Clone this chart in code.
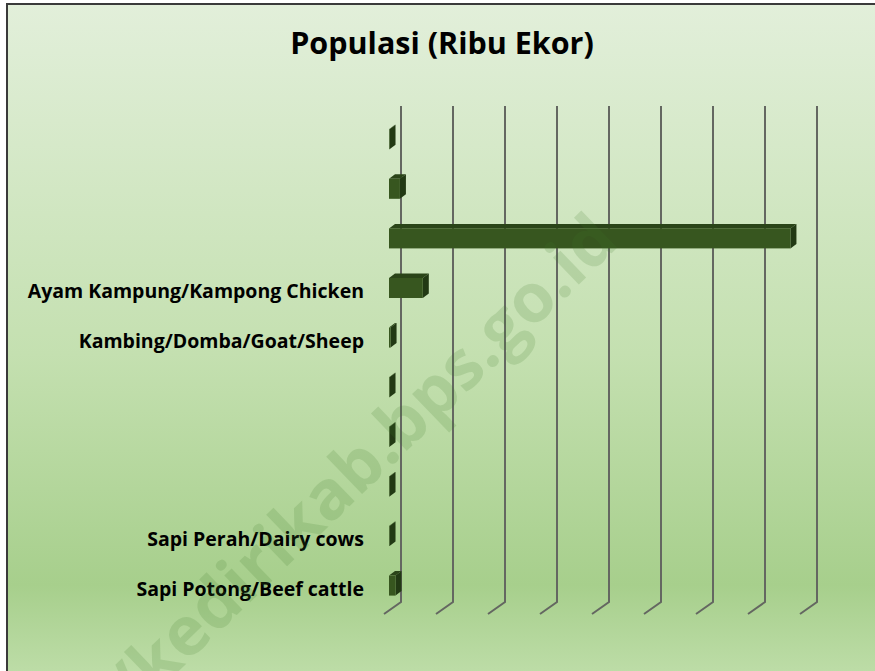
<html>
  <head>
    <script src="https://cdn.jsdelivr.net/npm/d3@7"></script>
    <style>
      * {
        margin: 0;
        padding: 0;
      }
      body {
        background-color: white;
        font-family: "Open Sans", Lato, sans-serif;
      }
    </style>
  </head>
  <body>
    <div id="chart"></div>
    <script>
      // categories top to bottom, blank ones have no label in the source
      const categories = [
        "",
        "",
        "",
        "Ayam Kampung/Kampong Chicken",
        "Kambing/Domba/Goat/Sheep",
        "",
        "",
        "",
        "Sapi Perah/Dairy cows",
        "Sapi Potong/Beef cattle",
      ];
      // population in thousand heads (axis unlabeled)
      const values = [1, 21, 772, 65, 3, 1, 1, 1, 1, 12.5];
      const ticks = [0, 100, 200, 300, 400, 500, 600, 700, 800];

      const w = 875;
      const h = 671;

      // back wall of the 3D plot
      const plotLeft = 401;
      const plotTop = 106;
      const plotBottom = 602;
      const step = 52;

      // floor depth (back -> front) and bar placement inside it
      const floorDx = -17;
      const floorDy = 12;
      const frontDx = -12;
      const frontDy = 8.4;
      const barDx = 6;
      const barDy = -4.5;
      const barH = 20;

      const xScale = d3
        .scaleLinear()
        .domain([0, 800])
        .range([plotLeft, plotLeft + step * 8]);

      const yScale = d3
        .scaleBand()
        .domain(d3.range(categories.length))
        .range([plotTop, plotBottom]);

      const svg = d3
        .select("#chart")
        .append("svg")
        .attr("width", w)
        .attr("height", h);

      const defs = svg.append("defs");
      const grad = defs
        .append("linearGradient")
        .attr("id", "bg")
        .attr("x1", 0)
        .attr("y1", 0)
        .attr("x2", 0)
        .attr("y2", 1);
      grad.append("stop").attr("offset", "0%").attr("stop-color", "#e2efda");
      grad.append("stop").attr("offset", "50%").attr("stop-color", "#c4e0b0");
      grad.append("stop").attr("offset", "83%").attr("stop-color", "#a7cf8c");
      grad.append("stop").attr("offset", "95%").attr("stop-color", "#bcdca6");
      grad.append("stop").attr("offset", "100%").attr("stop-color", "#c4e0b0");

      svg
        .append("rect")
        .attr("x", 7)
        .attr("y", 4)
        .attr("width", 900)
        .attr("height", 700)
        .attr("fill", "url(#bg)")
        .attr("stroke", "#3a3a3a")
        .attr("stroke-width", 2);

      svg
        .append("text")
        .attr("x", 442)
        .attr("y", 54)
        .attr("text-anchor", "middle")
        .style("font-size", "30.5px")
        .style("font-weight", 700)
        .text("Populasi (Ribu Ekor)");

      // gridlines with their floor part
      svg
        .append("g")
        .selectAll("path")
        .data(ticks)
        .enter()
        .append("path")
        .attr(
          "d",
          (d) =>
            "M" + xScale(d) + "," + plotTop +
            "V" + plotBottom +
            "l" + floorDx + "," + floorDy
        )
        .attr("fill", "none")
        .attr("stroke", "#646761")
        .attr("stroke-width", 2);

      const bars = svg
        .append("g")
        .selectAll("g")
        .data(values)
        .enter()
        .append("g");

      const x0 = xScale(0) + frontDx;
      const fy = (d, i) =>
        yScale(i) + yScale.bandwidth() / 2 + frontDy - barH / 2;
      const fx = (d) => xScale(d) + frontDx;

      // top face
      bars
        .append("path")
        .attr("d", (d, i) => {
          const y = fy(d, i);
          return (
            "M" + x0 + "," + y +
            "L" + fx(d) + "," + y +
            "l" + barDx + "," + barDy +
            "L" + (x0 + barDx) + "," + (y + barDy) + "Z"
          );
        })
        .attr("fill", "#2a4418");

      // side face
      bars
        .append("path")
        .attr("d", (d, i) => {
          const y = fy(d, i);
          return (
            "M" + fx(d) + "," + y +
            "l" + barDx + "," + barDy +
            "l0," + barH +
            "l" + -barDx + "," + -barDy + "Z"
          );
        })
        .attr("fill", "#223914");

      // front face
      bars
        .append("rect")
        .attr("x", x0)
        .attr("y", (d, i) => fy(d, i))
        .attr("width", (d) => fx(d) - x0)
        .attr("height", barH)
        .attr("fill", "#37561f");

      svg
        .append("g")
        .selectAll("text")
        .data(categories)
        .enter()
        .append("text")
        .attr("x", 364)
        .attr("y", (d, i) => yScale(i) + yScale.bandwidth() / 2 + floorDy)
        .attr("dy", "0.35em")
        .attr("text-anchor", "end")
        .style("font-size", "19.5px")
        .style("font-weight", 700)
        .text((d) => d);

      // watermark
      svg
        .append("text")
        .attr("transform", "translate(621,244) rotate(-44)")
        .attr("text-anchor", "end")
        .style("font-size", "68px")
        .style("font-weight", 700)
        .attr("fill", "#3f7a2a")
        .attr("opacity", 0.16)
        .text("https://kedirikab.bps.go.id");
    </script>
  </body>
</html>
